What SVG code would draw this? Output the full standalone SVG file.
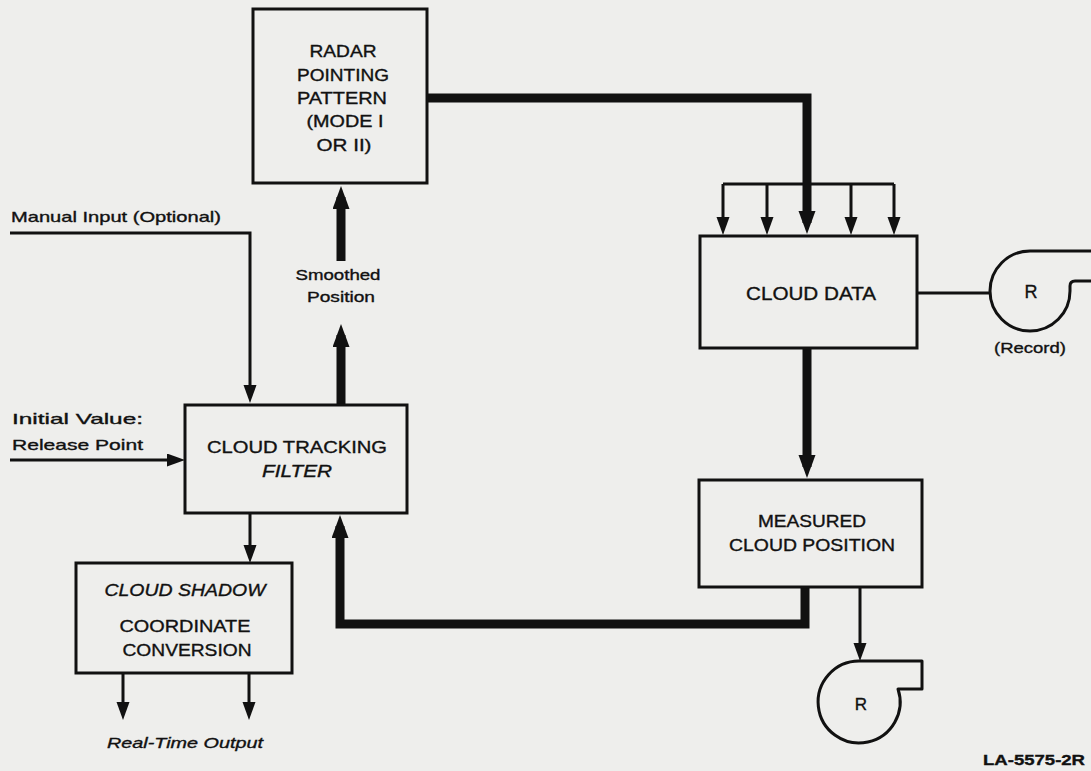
<svg xmlns="http://www.w3.org/2000/svg" width="1091" height="771" viewBox="0 0 1091 771">
<style>
.bg{fill:#eeeeec}
.box{fill:none;stroke:#111;stroke-width:3}
.thin{fill:none;stroke:#111;stroke-width:3}
.thick{fill:none;stroke:#111;stroke-width:9;stroke-linejoin:miter}
.rec{fill:none;stroke:#111;stroke-width:3;stroke-linejoin:round}
text{font-family:"Liberation Sans",Arial,sans-serif;fill:#111;stroke:#111;stroke-width:0.35}
.bt{font-size:17px;text-anchor:middle}
.lb{font-size:15px}
.lc{font-size:15px;text-anchor:middle}
.it{font-style:italic}
</style>
<defs>
<marker id="ah" markerUnits="userSpaceOnUse" markerWidth="20" markerHeight="14" refX="8" refY="6.5" orient="auto" viewBox="0 0 20 14">
<path d="M0,0 L18,6.5 L0,13 Z" fill="#111"/>
</marker>
<marker id="ahT" markerUnits="userSpaceOnUse" markerWidth="24" markerHeight="18" refX="12" refY="8.5" orient="auto" viewBox="0 0 24 18">
<path d="M0,0 L23,8.5 L0,17 Z" fill="#111"/>
</marker>
</defs>
<rect class="bg" x="0" y="0" width="1091" height="771"/>

<g id="connectors">
<path class="thin" d="M10,233 H250 V393" marker-end="url(#ah)"/>
<path class="thin" d="M10,460 H175" marker-end="url(#ah)"/>
<path class="thin" d="M250,513 V553" marker-end="url(#ah)"/>
<path class="thin" d="M123,673 V710" marker-end="url(#ah)"/>
<path class="thin" d="M249,673 V710" marker-end="url(#ah)"/>
<path class="thin" d="M723,184 H894"/>
<path class="thin" d="M723,184 V225" marker-end="url(#ah)"/>
<path class="thin" d="M767,184 V225" marker-end="url(#ah)"/>
<path class="thin" d="M851,184 V225" marker-end="url(#ah)"/>
<path class="thin" d="M894,184 V225" marker-end="url(#ah)"/>
<path class="thin" d="M917,293 H990"/>
<path class="thin" d="M860,587 V651" marker-end="url(#ah)"/>
<path class="thick" d="M427,98 H807 V223" marker-end="url(#ahT)"/>
<path class="thick" d="M807,348 V467" marker-end="url(#ahT)"/>
<path class="thick" d="M805,587 V624 H340 V526" marker-end="url(#ahT)"/>
<path class="thick" d="M341,405 V335" marker-end="url(#ahT)"/>
<path class="thick" d="M341,261 V197" marker-end="url(#ahT)"/>
</g>

<g id="radar">
<rect class="box" x="253" y="9" width="174" height="174"/>
<text class="bt" x="343" y="57" textLength="67" lengthAdjust="spacingAndGlyphs">RADAR</text>
<text class="bt" x="343" y="81" textLength="92" lengthAdjust="spacingAndGlyphs">POINTING</text>
<text class="bt" x="342" y="104" textLength="90" lengthAdjust="spacingAndGlyphs">PATTERN</text>
<text class="bt" x="345" y="127" textLength="77" lengthAdjust="spacingAndGlyphs">(MODE I</text>
<text class="bt" x="344" y="151" textLength="55" lengthAdjust="spacingAndGlyphs">OR II)</text>
</g>

<g id="cloud-data">
<rect class="box" x="700" y="236" width="217" height="112"/>
<text class="bt" x="811" y="300" textLength="130" lengthAdjust="spacingAndGlyphs" style="font-size:18px">CLOUD DATA</text>
</g>

<g id="recorder-top">
<path class="rec" d="M1091,251 H1030 A40,40 0 1 0 1070,291 V286 Q1070,281 1075,281 H1091"/>
<text class="bt" x="1031" y="298" style="font-size:18px">R</text>
<text class="lc" x="1030" y="353" textLength="72" lengthAdjust="spacingAndGlyphs">(Record)</text>
</g>

<g id="measured">
<rect class="box" x="699" y="480" width="223" height="107"/>
<text class="bt" x="812" y="527" textLength="108" lengthAdjust="spacingAndGlyphs">MEASURED</text>
<text class="bt" x="812" y="551" textLength="166" lengthAdjust="spacingAndGlyphs">CLOUD POSITION</text>
</g>

<g id="recorder-bottom">
<path class="rec" d="M898,689 A41,41 0 1 1 859,661 H922 V689 Z"/>
<text class="bt" x="861" y="710" style="font-size:17px">R</text>
</g>

<g id="filter">
<rect class="box" x="185" y="405" width="222" height="108"/>
<text class="bt" x="297" y="453" textLength="180" lengthAdjust="spacingAndGlyphs">CLOUD TRACKING</text>
<text class="bt it" x="297" y="477" textLength="70" lengthAdjust="spacingAndGlyphs">FILTER</text>
</g>

<g id="shadow">
<rect class="box" x="76" y="563" width="216" height="110"/>
<text class="bt it" x="185" y="596" textLength="161" lengthAdjust="spacingAndGlyphs">CLOUD SHADOW</text>
<text class="bt" x="185" y="632" textLength="131" lengthAdjust="spacingAndGlyphs">COORDINATE</text>
<text class="bt" x="187" y="656" textLength="129" lengthAdjust="spacingAndGlyphs">CONVERSION</text>
</g>

<g id="labels">
<text class="lb" x="11" y="222" textLength="210" lengthAdjust="spacingAndGlyphs">Manual Input (Optional)</text>
<text class="lb" x="12" y="424" textLength="131" lengthAdjust="spacingAndGlyphs">Initial Value:</text>
<text class="lb" x="12" y="450" textLength="131" lengthAdjust="spacingAndGlyphs">Release Point</text>
<text class="lc" x="338" y="280" textLength="85" lengthAdjust="spacingAndGlyphs">Smoothed</text>
<text class="lc" x="341" y="302" textLength="68" lengthAdjust="spacingAndGlyphs">Position</text>
<text class="lc it" x="185" y="748" textLength="156" lengthAdjust="spacingAndGlyphs">Real-Time Output</text>
<text class="lb" x="983" y="765" textLength="102" lengthAdjust="spacingAndGlyphs" style="font-weight:bold">LA-5575-2R</text>
</g>
</svg>
